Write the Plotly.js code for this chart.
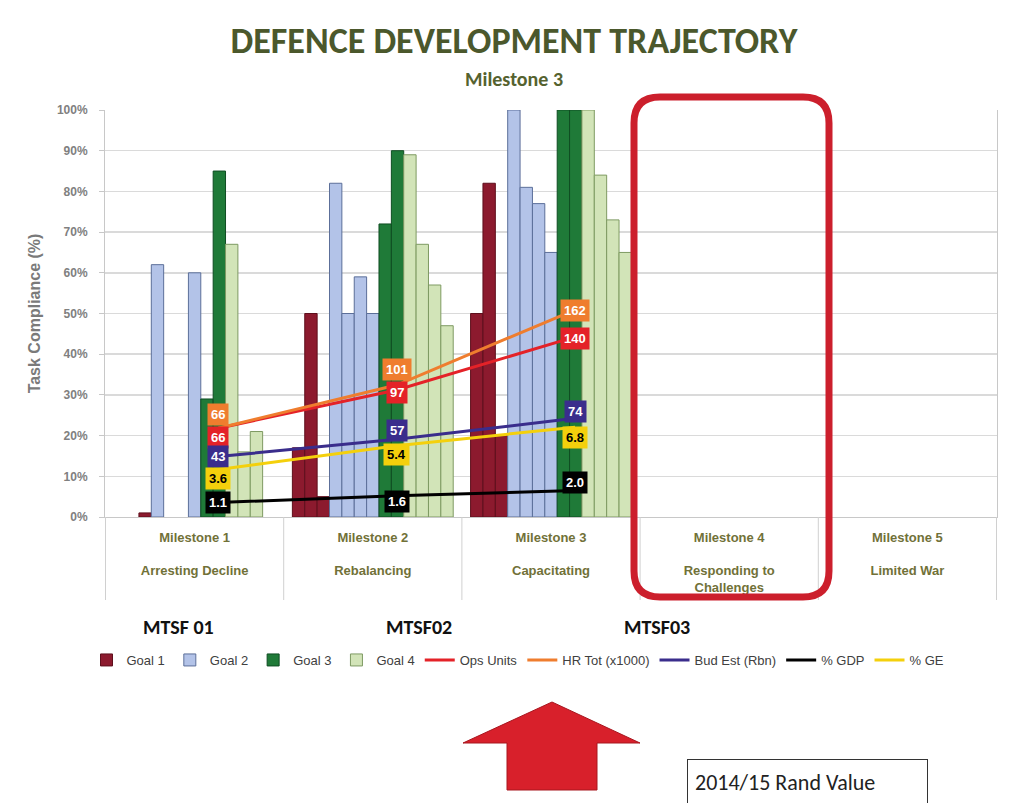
<!DOCTYPE html>
<html>
<head>
<meta charset="utf-8">
<script src="https://cdn.plot.ly/plotly-3.0.1.min.js"></script>
<style>
  html, body { margin: 0; padding: 0; background: #ffffff; }
  #chart { width: 1017px; height: 803px; }
</style>
</head>
<body>
<div id="chart"></div>
<script>
// Milestones on the category axis
const milestones = ['Milestone 1', 'Milestone 2', 'Milestone 3', 'Milestone 4', 'Milestone 5'];
const phases = ['Arresting Decline', 'Rebalancing', 'Capacitating', 'Responding to<br>Challenges', 'Limited War'];

// Task compliance (%) per goal, each goal split into its sub-measures (null = no bar)
const goal1a = [null, 17, 50, null, null];
const goal1b = [null, 50, 82, null, null];
const goal1c = [1, 5, 20, null, null];
const goal2a = [62, 82, 100, null, null];
const goal2b = [null, 50, 81, null, null];
const goal2c = [null, 59, 77, null, null];
const goal2d = [60, 50, 65, null, null];
const goal3a = [29, 72, 100, null, null];
const goal3b = [85, 90, 100, null, null];
const goal4a = [67, 89, 100, null, null];
const goal4b = [16, 67, 84, null, null];
const goal4c = [21, 57, 73, null, null];
const goal4d = [null, 47, 65, null, null];

// Resource indicators for milestones 1-3
const opsUnits = [66, 97, 140];
const hrTotal = [66, 101, 162];
const budgetEst = [43, 57, 74];
const pctGdp = [1.1, 1.6, 2.0];
const pctGe = [3.6, 5.4, 6.8];

// Planning periods and footnote
const eras = ['MTSF 01', 'MTSF02', 'MTSF03'];
const noteText = '2014/15 Rand Value';

// ---- page geometry ----
const W = 1017, H = 803;
const M = { l: 105, r: 20, t: 110, b: 286 };
const PW = W - M.l - M.r, PH = H - M.t - M.b;
const px = x => (x - M.l) / PW;          // pixel -> paper x
const py = y => (M.t + PH - y) / PH;     // pixel -> paper y

const calibriLike = 'Carlito, "Liberation Sans Narrow", "Open Sans", sans-serif';
const arialLike = '"Liberation Sans", Arial, sans-serif';

const goalStyles = [
  { name: 'Goal 1', fill: '#8c1a2e', edge: '#5e0f1c', series: [goal1a, goal1b, goal1c] },
  { name: 'Goal 2', fill: '#b3c3e8', edge: '#5c6f99', series: [goal2a, goal2b, goal2c, goal2d] },
  { name: 'Goal 3', fill: '#1f7a38', edge: '#0f4d22', series: [goal3a, goal3b] },
  { name: 'Goal 4', fill: '#d2e4b8', edge: '#7e9a62', series: [goal4a, goal4b, goal4c, goal4d] }
];

const traces = [];
goalStyles.forEach(g => {
  g.series.forEach((vals, k) => {
    traces.push({
      type: 'bar', x: milestones, y: vals, name: g.name,
      legendgroup: g.name, showlegend: k === 0,
      marker: { color: g.fill, line: { color: g.edge, width: 1 } },
      hovertemplate: g.name + ': %{y}%<extra></extra>'
    });
  });
});

// Indicator lines sit slightly right of each category centre
const lineShift = 0.135;
const lineX = opsUnits.map((_, i) => i + lineShift);

const indicators = [
  { name: 'Ops Units', vals: opsUnits, color: '#e42228', text: '#ffffff', axis: 'y2', nudge: [9, 3, 2] },
  { name: 'HR Tot (x1000)', vals: hrTotal, color: '#ef7d2e', text: '#ffffff', axis: 'y2', nudge: [-14, -16, 1] },
  { name: 'Bud Est (Rbn)', vals: budgetEst, color: '#3a2d8c', text: '#ffffff', axis: 'y2', nudge: [0, -9, -7] },
  { name: '% GDP', vals: pctGdp, color: '#000000', text: '#ffffff', axis: 'y3', nudge: [0, 6, -8] },
  { name: '% GE', vals: pctGe, color: '#f4d00c', text: '#000000', axis: 'y3', nudge: [9, 9, 10] }
];

const annotations = [];
indicators.forEach(s => {
  traces.push({
    type: 'scatter', mode: 'lines', x: lineX, y: s.vals, name: s.name,
    xaxis: 'x2', yaxis: s.axis,
    line: { color: s.color, width: 3 },
    hovertemplate: s.name + ': %{y}<extra></extra>'
  });
});
// value tags drawn after all lines so they sit on top
[1, 0, 2, 4, 3].forEach(idx => {
  const s = indicators[idx];
  s.vals.forEach((v, i) => {
    annotations.push({
      xref: 'x2', yref: s.axis, x: lineX[i], y: v,
      yshift: -s.nudge[i],
      text: '<b>' + (s.name.indexOf('%') === 0 ? v.toFixed(1) : String(v)) + '</b>',
      showarrow: false,
      font: { family: arialLike, size: 13, color: s.text },
      bgcolor: s.color, borderpad: 3
    });
  });
});

// Sub-title, period markers and footnote
annotations.push({
  xref: 'paper', yref: 'paper', x: px(514), y: py(79), xanchor: 'center', yanchor: 'middle',
  showarrow: false,
  text: 'Milestone 3', font: { family: calibriLike, size: 20, color: '#55622f', weight: 'bold' }
});
const eraX = [178, 419, 657];
eras.forEach((e, i) => {
  annotations.push({
    xref: 'paper', yref: 'paper', x: px(eraX[i]), y: py(627), xanchor: 'center', yanchor: 'middle',
    showarrow: false,
    text: e, font: { family: calibriLike, size: 20, color: '#111111', weight: 'bold' }
  });
});
annotations.push({
  xref: 'paper', yref: 'paper', x: px(687), y: py(782), xanchor: 'left', yanchor: 'middle',
  showarrow: false, text: noteText, align: 'left', width: 225, height: 31,
  font: { family: calibriLike, size: 22, color: '#222222' },
  bordercolor: '#333333', borderwidth: 1, borderpad: 7, bgcolor: '#ffffff'
});

// Shapes: category dividers, highlight frame and the pointer arrow
const shapes = [];
for (let i = 0; i <= milestones.length; i++) {
  shapes.push({
    type: 'line', xref: 'x', yref: 'paper', x0: i - 0.5, x1: i - 0.5,
    y0: 0, y1: py(600), line: { color: '#d0d0d0', width: 1 }
  });
}
(function () {
  const xl = px(634), xr = px(829), yt = py(97), yb = py(597);
  const rx = 26 / PW, ry = 26 / PH;
  shapes.push({
    type: 'path', xref: 'paper', yref: 'paper', layer: 'above',
    path: `M ${xl + rx},${yt} L ${xr - rx},${yt} Q ${xr},${yt} ${xr},${yt - ry} ` +
          `L ${xr},${yb + ry} Q ${xr},${yb} ${xr - rx},${yb} L ${xl + rx},${yb} ` +
          `Q ${xl},${yb} ${xl},${yb + ry} L ${xl},${yt - ry} Q ${xl},${yt} ${xl + rx},${yt} Z`,
    line: { color: '#cc1f2c', width: 7 }, fillcolor: 'rgba(0,0,0,0)'
  });
  const pts = [[552, 702], [640, 743], [597, 743], [597, 790], [507, 790], [507, 743], [463, 743]];
  shapes.push({
    type: 'path', xref: 'paper', yref: 'paper',
    path: 'M ' + pts.map(p => px(p[0]) + ',' + py(p[1])).join(' L ') + ' Z',
    fillcolor: '#d8202b', line: { color: '#a8161f', width: 1 }
  });
})();

const layout = {
  width: W, height: H,
  margin: M,
  paper_bgcolor: '#ffffff', plot_bgcolor: '#ffffff',
  title: {
    text: 'DEFENCE DEVELOPMENT TRAJECTORY',
    font: { family: calibriLike, size: 36, color: '#4b582c', weight: 'bold' },
    xref: 'container', yref: 'container', x: 514 / W, xanchor: 'center',
    y: 1 - 40 / H, yanchor: 'middle'
  },
  barmode: 'group', bargap: 0.0975, bargroupgap: 0,
  showlegend: true,
  legend: {
    orientation: 'h', x: px(518), xanchor: 'center', y: py(660), yanchor: 'middle',
    font: { family: arialLike, size: 13, color: '#404040' },
    traceorder: 'normal', itemwidth: 30, tracegroupgap: 0
  },
  xaxis: {
    type: 'category', tickmode: 'array', tickvals: milestones,
    ticktext: milestones.map((m, i) => m + '<br><br>' + phases[i]),
    tickfont: { family: arialLike, size: 13, color: '#717138', weight: 'bold' },
    showline: true, linecolor: '#c8c8c8', linewidth: 1,
    ticks: '', ticklabelstandoff: 8, showgrid: false, fixedrange: true
  },
  yaxis: {
    range: [0, 100], dtick: 10, ticksuffix: '%',
    tickfont: { family: arialLike, size: 12, color: '#808080', weight: 'bold' },
    showgrid: true, gridcolor: '#dadada', gridwidth: 1.5,
    showline: true, linecolor: '#c8c8c8', mirror: true,
    ticks: 'outside', ticklen: 5, tickcolor: '#c8c8c8', ticklabelstandoff: 9,
    zeroline: false, fixedrange: true,
    title: { text: 'Task Compliance (%)', font: { family: arialLike, size: 16, color: '#7a7a7a', weight: 'bold' }, standoff: 12 }
  },
  xaxis2: { overlaying: 'x', range: [-0.5, 4.5], visible: false, fixedrange: true },
  yaxis2: { overlaying: 'y', range: [-6, 324], visible: false, fixedrange: true },
  yaxis3: { overlaying: 'y', range: [0, 30.8], visible: false, fixedrange: true },
  annotations: annotations,
  shapes: shapes
};

Plotly.newPlot('chart', traces, layout, { displayModeBar: false, staticPlot: true });
</script>
</body>
</html>
